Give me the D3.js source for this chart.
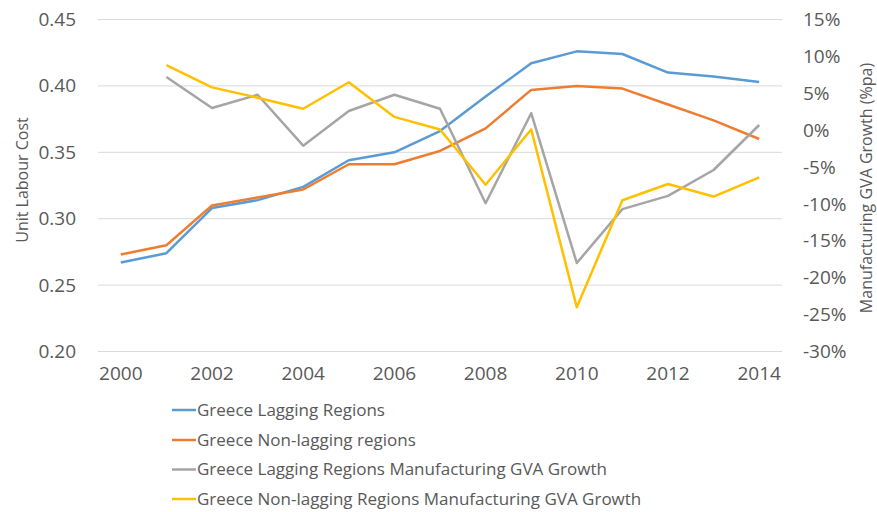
<!DOCTYPE html>
<html><head><meta charset="utf-8">
<script src="https://cdn.jsdelivr.net/npm/d3@7"></script>
<style>
body{margin:0;background:#fff;}
text{font-family:"Open Sans",sans-serif;fill:#595959;}
</style></head>
<body>
<svg id="c" width="877" height="512"></svg>
<script>
const years = [2000,2001,2002,2003,2004,2005,2006,2007,2008,2009,2010,2011,2012,2013,2014];
const xTicks = [2000,2002,2004,2006,2008,2010,2012,2014];
const leftTicks = [0.20,0.25,0.30,0.35,0.40,0.45];
const rightTicks = [-30,-25,-20,-15,-10,-5,0,5,10,15];
const lagging = [0.267,0.274,0.308,0.314,0.324,0.344,0.350,0.366,0.392,0.417,0.426,0.424,0.410,0.407,0.403];
const nonLagging = [0.273,0.280,0.310,0.316,0.322,0.341,0.341,0.351,0.368,0.397,0.400,0.398,0.386,0.374,0.360];
const laggingGVA = [null,7.2,3.0,4.8,-2.1,2.6,4.8,2.9,-9.9,2.3,-18.0,-10.7,-8.9,-5.4,0.7];
const nonLaggingGVA = [null,8.8,5.8,4.4,2.9,6.5,1.8,0.1,-7.4,0.1,-24.0,-9.5,-7.3,-9.0,-6.4];
const seriesNames = ["Greece Lagging Regions","Greece Non-lagging regions","Greece Lagging Regions Manufacturing GVA Growth","Greece Non-lagging Regions Manufacturing GVA Growth"];
const colors = ["#5B9BD5","#ED7D31","#A5A5A5","#FFC000"];

const svg = d3.select("#c");
const L = 98, R = 782, T = 19.5, B = 351.5;
const x = d3.scaleBand().domain(years).range([L,R]);
const xc = d => x(d) + x.bandwidth()/2;
const yL = d3.scaleLinear().domain([0.20,0.45]).range([B,T]);
const yR = d3.scaleLinear().domain([-30,15]).range([B,T]);

// gridlines
svg.append("g").selectAll("line").data(leftTicks).join("line")
  .attr("x1",L).attr("x2",R).attr("y1",d=>yL(d)).attr("y2",d=>yL(d))
  .attr("stroke","#D9D9D9").attr("stroke-width",1);

const tickFont = "19px";
// left axis
const gl = svg.append("g").attr("transform",`translate(${L},0)`)
  .call(d3.axisLeft(yL).tickValues(leftTicks).tickFormat(d3.format(".2f")).tickSize(0).tickPadding(22));
gl.select(".domain").remove();
gl.selectAll("text").style("font-size",tickFont).style("fill","#595959").style("font-family","'Open Sans',sans-serif");

// right axis
const gr = svg.append("g").attr("transform",`translate(${R},0)`)
  .call(d3.axisRight(yR).tickValues(rightTicks).tickFormat(d=>d+"%").tickSize(0).tickPadding(21));
gr.select(".domain").remove();
gr.selectAll("text").style("font-size",tickFont).style("fill","#595959").style("font-family","'Open Sans',sans-serif");

// bottom axis
const gb = svg.append("g").attr("transform",`translate(0,${B})`)
  .call(d3.axisBottom(x).tickValues(xTicks).tickSize(0).tickPadding(15));
gb.select(".domain").remove();
gb.selectAll("text").style("font-size",tickFont).style("fill","#595959").style("font-family","'Open Sans',sans-serif");

// axis titles
svg.append("text").attr("transform","translate(28,180) rotate(-90)").attr("text-anchor","middle")
  .style("font-size","16px").text("Unit Labour Cost");
svg.append("text").attr("transform","translate(872,188) rotate(-90)").attr("text-anchor","middle")
  .style("font-size","16px").text("Manufacturing GVA Growth (%pa)");

// lines
const lineL = d3.line().defined(d=>d[1]!=null).x(d=>xc(d[0])).y(d=>yL(d[1]));
const lineR = d3.line().defined(d=>d[1]!=null).x(d=>xc(d[0])).y(d=>yR(d[1]));
const dataSets = [
  {v:lagging, gen:lineL},
  {v:nonLagging, gen:lineL},
  {v:laggingGVA, gen:lineR},
  {v:nonLaggingGVA, gen:lineR}
];
dataSets.forEach((s,i)=>{
  svg.append("path").datum(years.map((yr,j)=>[yr,s.v[j]]))
    .attr("d",s.gen).attr("fill","none").attr("stroke",colors[i])
    .attr("stroke-width",2.5).attr("stroke-linejoin","round");
});

// legend
const lg = svg.append("g");
const rowsY = [410,440,469.5,499];
seriesNames.forEach((n,i)=>{
  lg.append("line").attr("x1",172).attr("x2",196).attr("y1",rowsY[i]).attr("y2",rowsY[i])
    .attr("stroke",colors[i]).attr("stroke-width",2.5);
  lg.append("text").attr("x",197).attr("y",rowsY[i]).attr("dy","0.35em")
    .style("font-size","17px").text(n);
});
</script>
</body></html>
